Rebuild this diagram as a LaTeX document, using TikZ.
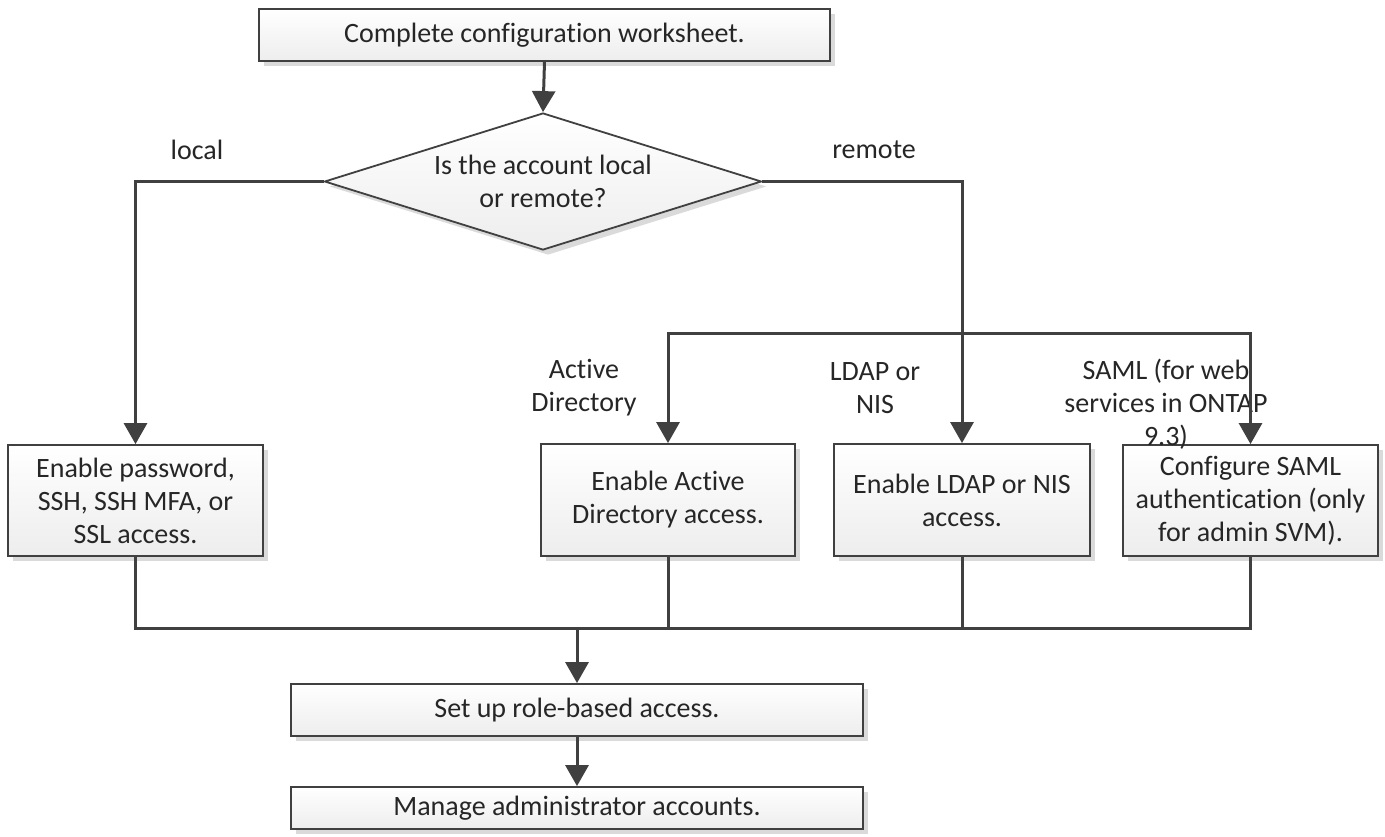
\documentclass[tikz,border=0pt]{standalone}
\usepackage{fontspec}
\setmainfont[Ligatures={NoCommon}]{Carlito}
\usetikzlibrary{shapes.geometric,arrows.meta,shadows}
\definecolor{ln}{HTML}{404040}
\definecolor{shd}{HTML}{DADADA}
\tikzset{
  box/.style={draw=ln, line width=1.8pt, top color=white, bottom color=black!7,
    drop shadow={shadow xshift=5pt, shadow yshift=-5pt, fill=shd, opacity=1},
    align=center, inner sep=0pt, font=\fontsize{28}{33}\selectfont, text=black!85},
  dia/.style={box, shape=diamond, aspect=3.19},
  conn/.style={draw=ln, line width=3pt},
  arr/.style={conn, -{Triangle[length=21pt,width=23pt]}},
  lbl/.style={align=center, font=\fontsize{28}{33}\selectfont, text=black!85, inner sep=0pt}
}
\begin{document}
\begin{tikzpicture}[x=1pt,y=-1pt]
\useasboundingbox (0,0) rectangle (1385,836);
\node[box, minimum width=571pt, minimum height=52pt] (top) at (544.5,35) {Complete configuration worksheet.};
\node[dia, minimum width=437pt, minimum height=137pt] (q) at (543,181.5) {Is the account local\\or remote?};
\node[box, minimum width=255pt, minimum height=111pt] (loc) at (135.5,500.5) {Enable password,\\SSH, SSH MFA, or\\SSL access.};
\node[box, minimum width=254pt, minimum height=112pt] (ad) at (668,500) {Enable Active\\Directory access.};
\node[box, minimum width=256pt, minimum height=112pt] (ldap) at (962,500) {Enable LDAP or NIS\\access.};
\node[box, minimum width=255pt, minimum height=111pt] (saml) at (1250.5,500.5) {Configure SAML\\authentication (only\\for admin SVM).};
\node[box, minimum width=572pt, minimum height=52pt] (role) at (577,710) {Set up role-based access.};
\node[box, minimum width=572pt, minimum height=42pt] (mgr) at (577,808) {Manage administrator accounts.};
\node[lbl] (llocal) at (197,150) {local};
\node[lbl] (lremote) at (874,150) {remote};
\node[lbl] (lad) at (584,388) {Active\\Directory};
\node[lbl] (lldap) at (875,388) {LDAP or\\NIS};
\node[lbl] (lsaml) at (1166,404) {SAML (for web\\services in ONTAP\\9.3)};
\coordinate (br) at (962,333);
\coordinate (mg) at (577,628);
\draw[arr] (top.south) -- (q.north);
\draw[arr] (q.west) -| (loc.north);
\draw[arr] (q.east) -| (ldap.north);
\draw[arr] (br) -| (ad.north);
\draw[arr] (br) -| (saml.north);
\draw[conn] (loc.south) |- (mg);
\draw[conn] (saml.south) |- (mg);
\draw[conn] (ad.south) -- (ad.south |- mg);
\draw[conn] (ldap.south) -- (ldap.south |- mg);
\draw[arr] (mg) -- (role.north);
\draw[arr] (role.south) -- (mgr.north);
\end{tikzpicture}
\end{document}
